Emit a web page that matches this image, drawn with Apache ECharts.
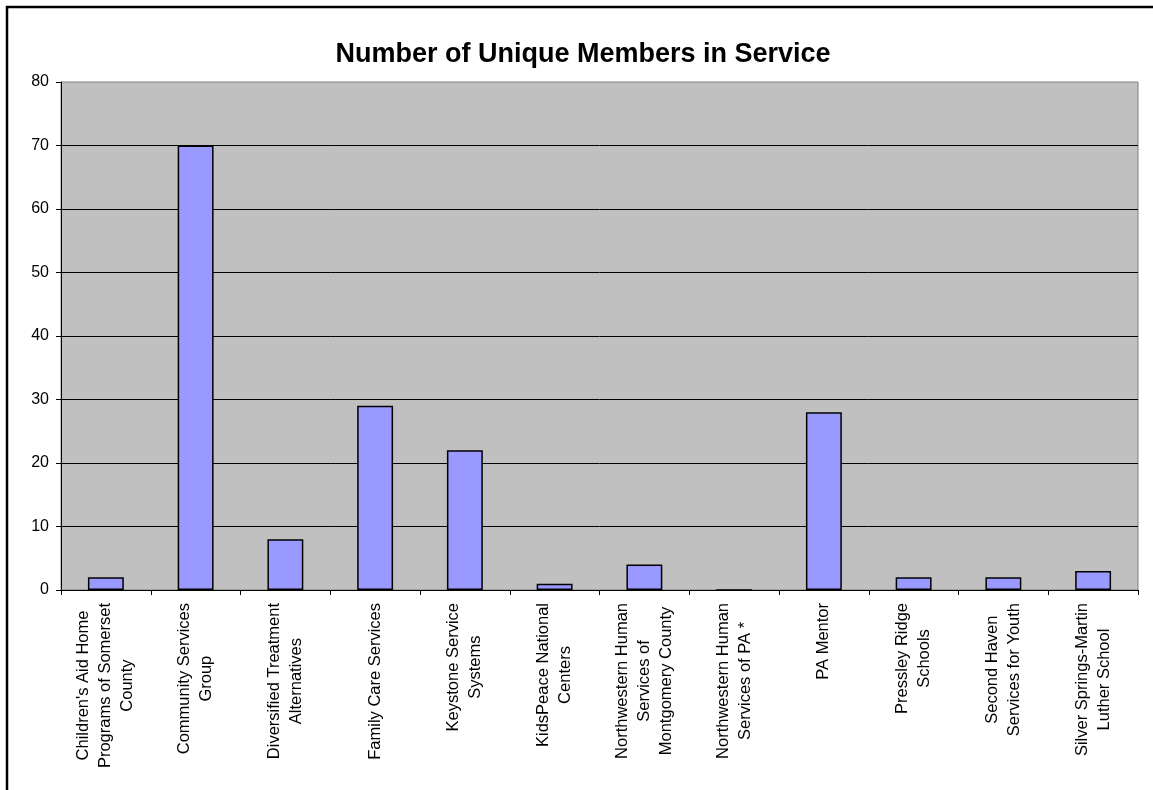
<!DOCTYPE html>
<html>
<head>
<meta charset="utf-8">
<style>
  html, body { margin: 0; padding: 0; background: #fff; }
  #chart { width: 1153px; height: 790px; }
</style>
<script src="https://cdn.jsdelivr.net/npm/echarts@6/dist/echarts.min.js"></script>
</head>
<body>
<div id="chart"></div>
<script>
  // provider names, line breaks as in the original chart
  var categories = [
    "Children's Aid Home\nPrograms of Somerset\nCounty",
    'Community Services\nGroup',
    'Diversified Treatment\nAlternatives',
    'Family Care Services',
    'Keystone Service\nSystems',
    'KidsPeace National\nCenters',
    'Northwestern Human\nServices of\nMontgomery County',
    'Northwestern Human\nServices of PA *',
    'PA Mentor',
    'Pressley Ridge\nSchools',
    'Second Haven\nServices for Youth',
    'Silver Springs-Martin\nLuther School'
  ];
  var members = [2, 70, 8, 29, 22, 1, 4, 0, 28, 2, 2, 3];
  var yTicks = { min: 0, max: 80, interval: 10 };

  var font = '"Liberation Sans", Arial, sans-serif';

  var chart = echarts.init(document.getElementById('chart'));
  var option = {
    backgroundColor: '#fff',
    animation: false,
    title: {
      text: 'Number of Unique Members in Service',
      left: 578,
      textAlign: 'center',
      top: 36,
      textStyle: { fontFamily: font, fontSize: 27, fontWeight: 'bold', color: '#000' }
    },
    graphic: [{
      type: 'rect',
      shape: { x: 7, y: 7, width: 1300, height: 1000 },
      style: { fill: null, stroke: '#000', lineWidth: 2.5 },
      silent: true
    }],
    grid: {
      left: 61, right: 15, top: 82, bottom: 200,
      show: true,
      backgroundColor: '#C0C0C0',
      borderColor: '#808080',
      borderWidth: 1
    },
    xAxis: {
      type: 'category',
      data: categories,
      axisLine: { lineStyle: { color: '#000', width: 1 } },
      axisTick: { show: true, length: 5, lineStyle: { color: '#000' } },
      axisLabel: {
        interval: 0,
        rotate: 90,
        margin: 13,
        color: '#000',
        fontFamily: font,
        fontSize: 16.5,
        formatter: function (v) {
          return v.split('\n').map(function (l) { return '{c|' + l + '}'; }).join('\n');
        },
        rich: {
          c: { align: 'center', fontFamily: font, fontSize: 16.5, lineHeight: 22, color: '#000' }
        }
      }
    },
    yAxis: {
      type: 'value',
      min: yTicks.min,
      max: yTicks.max,
      interval: yTicks.interval,
      axisLine: { show: true, lineStyle: { color: '#000', width: 1 } },
      axisTick: { show: true, length: 5, lineStyle: { color: '#000' } },
      axisLabel: { margin: 12, color: '#000', fontFamily: font, fontSize: 16 },
      splitLine: { show: true, showMaxLine: false, lineStyle: { color: '#000', width: 1 } }
    },
    series: [{
      type: 'bar',
      data: members,
      barWidth: '40%',
      itemStyle: { color: '#9999FF', borderColor: '#000', borderWidth: 1.5 }
    }]
  };
  chart.setOption(option);
</script>
</body>
</html>
